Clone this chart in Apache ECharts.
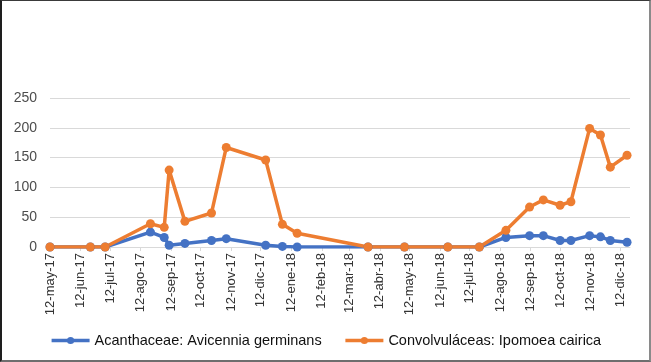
<!DOCTYPE html>
<html>
<head>
<meta charset="utf-8">
<script src="https://cdn.jsdelivr.net/npm/echarts@6/dist/echarts.min.js"></script>
<style>
  html, body { margin: 0; padding: 0; background: #ffffff; }
  #wrap { position: relative; width: 651px; height: 362px; }
  #chart { position: absolute; left: 0; top: 0; width: 651px; height: 362px; }
  #frame { position: absolute; left: 0; top: 0; width: 651px; height: 362px; box-sizing: border-box;
           border-left: 2px solid #1e1e1e; border-top: 1px solid #3a3a3a;
           border-right: 2px solid #8a8a8a; border-bottom: 2px solid #6e6e6e; pointer-events: none; }
</style>
</head>
<body>
<div id="wrap">
  <div id="chart"></div>
  <div id="frame"></div>
</div>
<script>
// ---- data ----
const dates = ['2017-05-12','2017-06-22','2017-07-07','2017-08-22','2017-09-05','2017-09-10','2017-09-26',
  '2017-10-23','2017-11-07','2017-12-17','2018-01-03','2018-01-18','2018-03-31','2018-05-07','2018-06-20',
  '2018-07-22','2018-08-18','2018-09-11','2018-09-25','2018-10-12','2018-10-23','2018-11-11','2018-11-22',
  '2018-12-02','2018-12-19'];
const acanthaceae = [0,0,0,25,16,3,6,11,14,3,1,0,0,0,0,0,16,19,19,11,11,19,17,11,8];
const convolvulaceae = [0,0,0,39,33,129,43,57,167,146,38,23,0,0,0,0,28,67,79,70,76,199,188,134,154];
const seriesNames = ['Acanthaceae: Avicennia germinans', 'Convolvuláceas: Ipomoea cairica'];
const tickDates = ['2017-05-12','2017-06-12','2017-07-12','2017-08-12','2017-09-12','2017-10-12','2017-11-12',
  '2017-12-12','2018-01-12','2018-02-12','2018-03-12','2018-04-12','2018-05-12','2018-06-12','2018-07-12',
  '2018-08-12','2018-09-12','2018-10-12','2018-11-12','2018-12-12'];
const tickLabels = ['12-may-17','12-jun-17','12-jul-17','12-ago-17','12-sep-17','12-oct-17','12-nov-17',
  '12-dic-17','12-ene-18','12-feb-18','12-mar-18','12-abr-18','12-may-18','12-jun-18','12-jul-18',
  '12-ago-18','12-sep-18','12-oct-18','12-nov-18','12-dic-18'];
const xMin = '2017-05-12';
const xMax = '2018-12-22';
const yTicks = [0, 50, 100, 150, 200, 250];

// ---- build ----
const ts = s => Date.UTC(+s.slice(0, 4), +s.slice(5, 7) - 1, +s.slice(8, 10));
const tickValues = tickDates.map(ts);
const labelMap = {};
tickValues.forEach((v, i) => { labelMap[v] = tickLabels[i]; });

const chart = echarts.init(document.getElementById('chart'), null, { renderer: 'canvas' });
const font = 'Liberation Sans, Arial, sans-serif';
chart.setOption({
  animation: false,
  textStyle: { fontFamily: font },
  grid: { left: 50, right: 21, top: 98, bottom: 115 },
  legend: {
    data: seriesNames,
    left: 'center',
    top: 328,
    itemWidth: 38,
    itemHeight: 9,
    itemGap: 22,
    lineStyle: { width: 3.5 },
    textStyle: { fontSize: 14.5, color: '#111111', fontFamily: font }
  },
  xAxis: {
    type: 'value',
    min: ts(xMin),
    max: ts(xMax),
    axisLine: { show: true, lineStyle: { color: '#d9d9d9', width: 1 } },
    axisTick: { show: true, length: 4, lineStyle: { color: '#d9d9d9' }, customValues: tickValues },
    splitLine: { show: false },
    axisLabel: {
      customValues: tickValues,
      rotate: 90,
      margin: 6,
      fontSize: 13,
      color: '#333333',
      fontFamily: font,
      hideOverlap: false,
      showMinLabel: true,
      showMaxLabel: true,
      formatter: v => labelMap[v] || ''
    }
  },
  yAxis: {
    type: 'value',
    min: yTicks[0],
    max: yTicks[yTicks.length - 1],
    interval: yTicks[1] - yTicks[0],
    axisLine: { show: false },
    axisTick: { show: false },
    splitLine: { lineStyle: { color: '#d9d9d9', width: 1 } },
    axisLabel: { fontSize: 14, color: '#4d4d4d', margin: 13, fontFamily: font }
  },
  series: [
    {
      name: seriesNames[0], type: 'line', symbol: 'circle', symbolSize: 9,
      data: dates.map((d, i) => [ts(d), acanthaceae[i]]),
      lineStyle: { width: 3.5, color: '#4472C4' },
      itemStyle: { color: '#4472C4' }
    },
    {
      name: seriesNames[1], type: 'line', symbol: 'circle', symbolSize: 9,
      data: dates.map((d, i) => [ts(d), convolvulaceae[i]]),
      lineStyle: { width: 3.5, color: '#ED7D31' },
      itemStyle: { color: '#ED7D31' }
    }
  ]
});
</script>
</body>
</html>
